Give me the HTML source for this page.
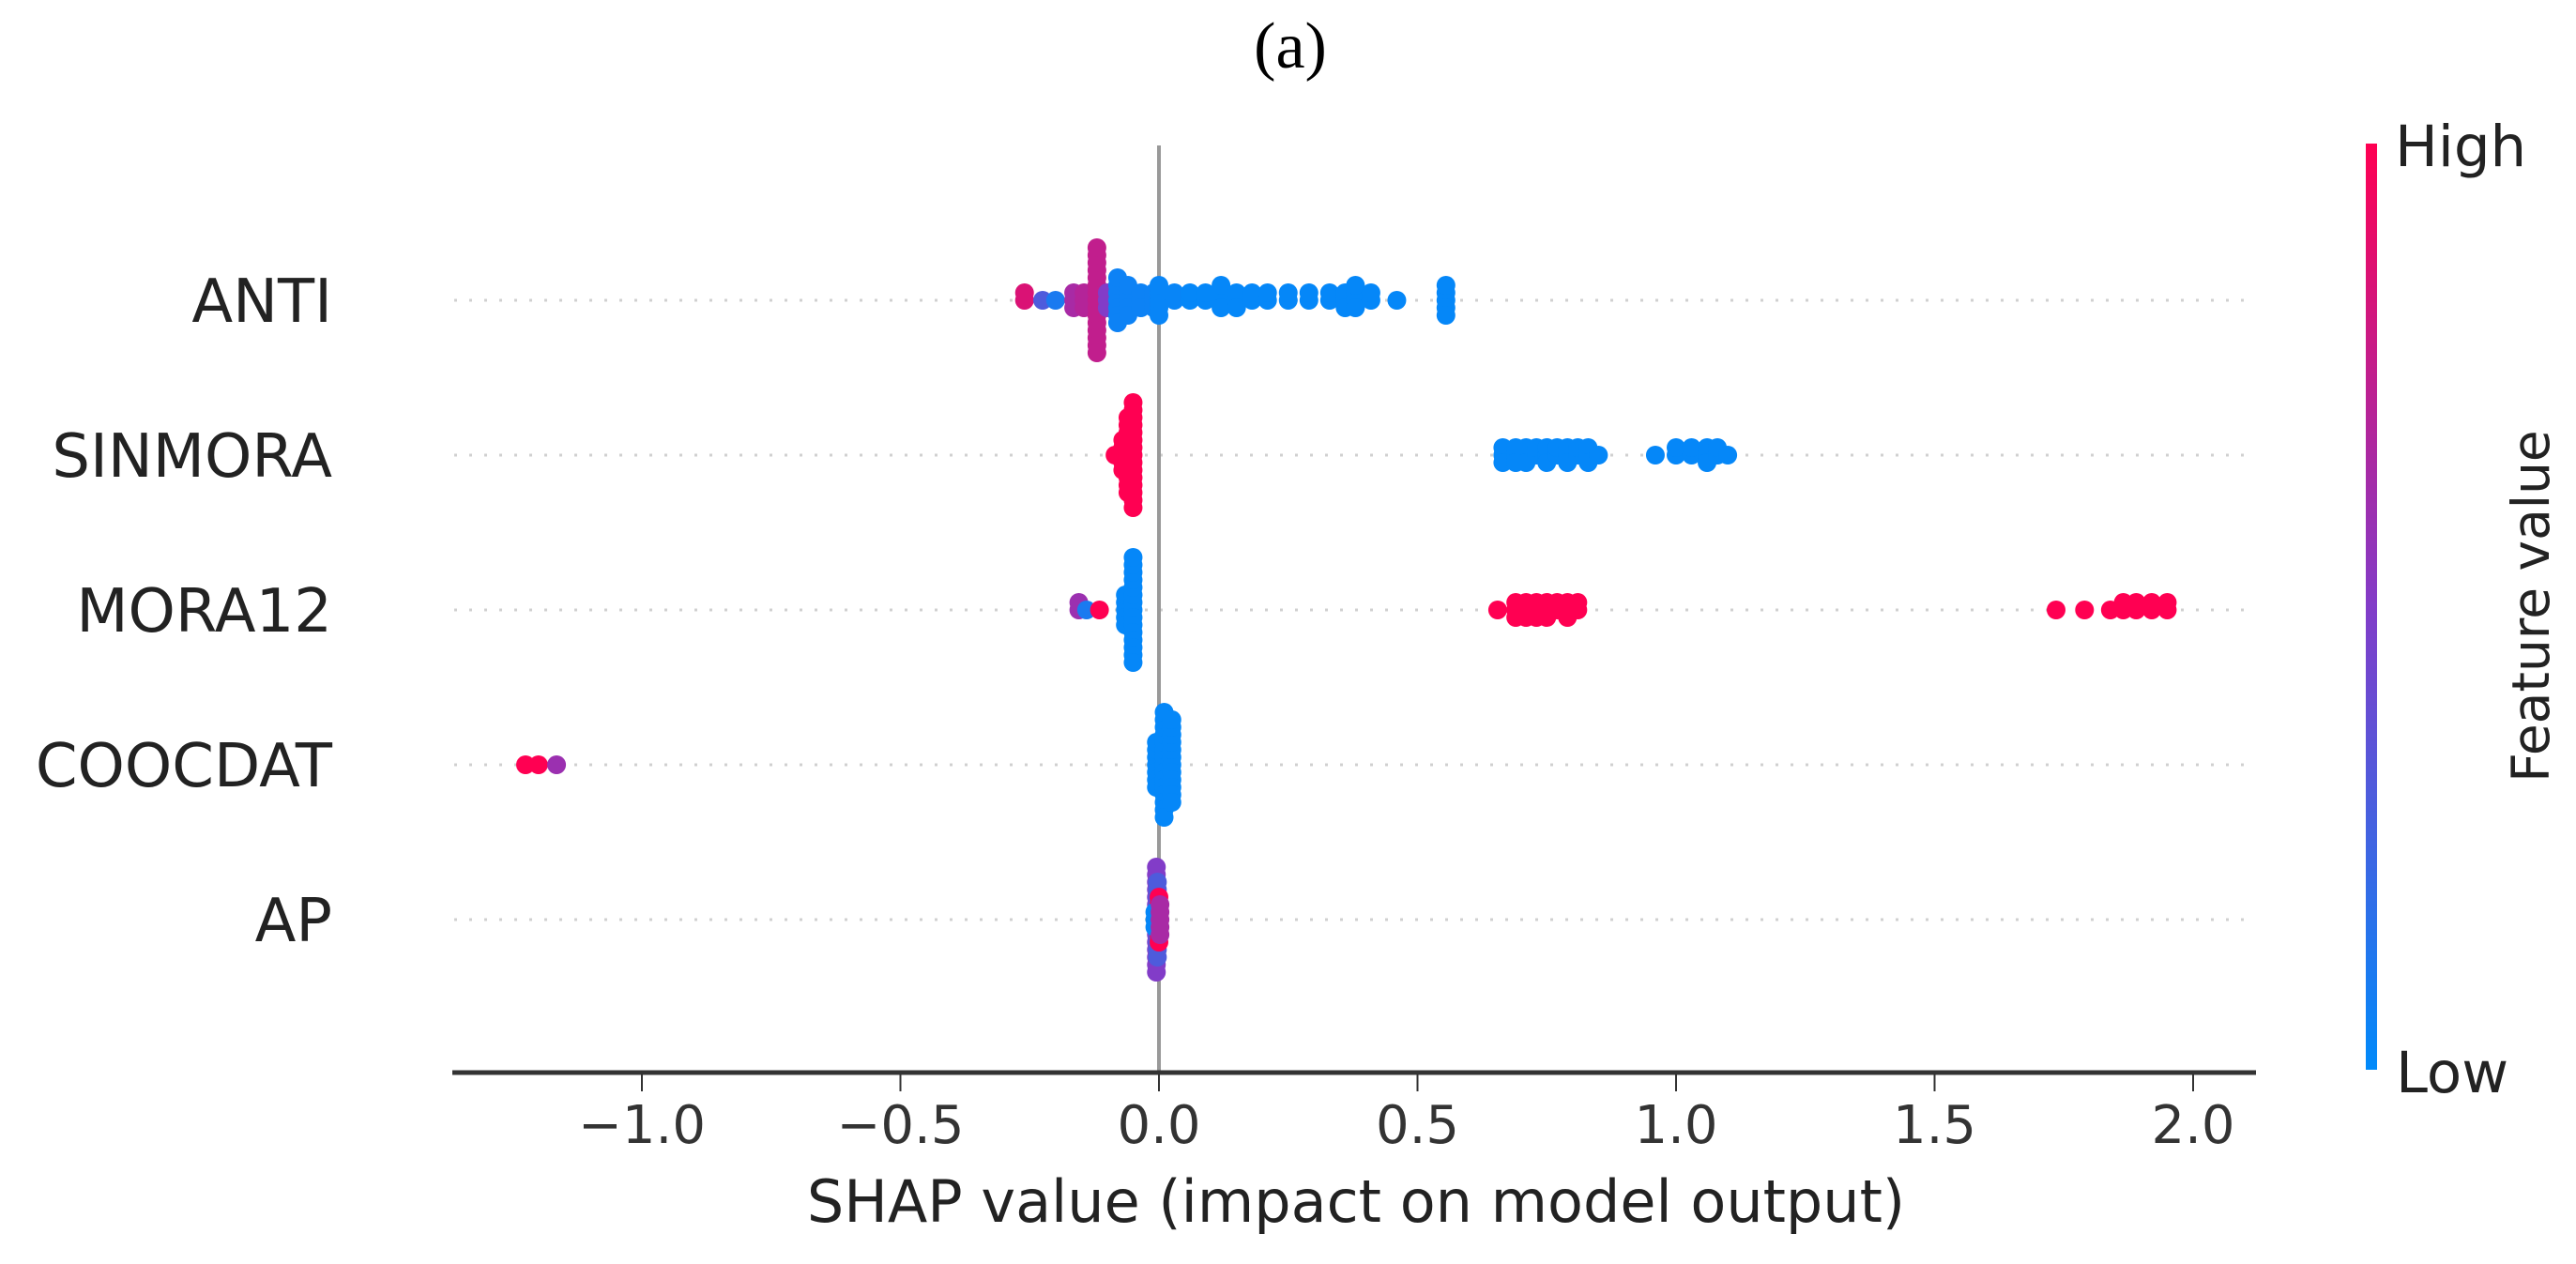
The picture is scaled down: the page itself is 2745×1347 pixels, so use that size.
<!DOCTYPE html>
<html><head><meta charset="utf-8">
<style>
html,body{margin:0;padding:0;background:#fff;}
svg{display:block;}
text{font-family:"DejaVu Sans","Liberation Sans",sans-serif;}
</style></head>
<body>
<svg id="chart" width="2745" height="1347" viewBox="0 0 2745 1347" xmlns="http://www.w3.org/2000/svg">
<defs>
<linearGradient id="cbar" x1="0" y1="1" x2="0" y2="0">
<stop offset="0" stop-color="#008afa"/>
<stop offset="0.5" stop-color="#823cc8"/>
<stop offset="1" stop-color="#ff0052"/>
</linearGradient>
</defs>
<text x="1375" y="72" text-anchor="middle" font-size="70" style="font-family:'Liberation Serif',serif" fill="#000">(a)</text>
<g id="grid"></g>
<line x1="1235" y1="155" x2="1235" y2="1143" stroke="#999" stroke-width="4"/>
<g id="dots"></g>
<line x1="482" y1="1143" x2="2404" y2="1143" stroke="#333" stroke-width="5"/>
<g id="xticks"></g>
<text x="1445" y="1302" text-anchor="middle" font-size="62" fill="#222">SHAP value (impact on model output)</text>
<g id="ylabels"></g>
<rect x="2521" y="153" width="12" height="987" fill="url(#cbar)"/>
<text x="2552" y="177" font-size="61" fill="#222">High</text>
<text x="2553" y="1164" font-size="61" fill="#222">Low</text>
<text x="2716" y="646" font-size="55" fill="#222" text-anchor="middle" transform="rotate(-90 2716 646)">Feature value</text>
</svg>
<script>
const features = ["ANTI","SINMORA","MORA12","COOCDAT","AP"];
const tickValues = [-1.0,-0.5,0.0,0.5,1.0,1.5,2.0];
const tickLabels = ["\u22121.0","\u22120.5","0.0","0.5","1.0","1.5","2.0"];

const antiVals = [-0.26,-0.225,-0.20,-0.165,-0.145,-0.12,-0.10,-0.08,-0.06,-0.035,-0.01,0.0,0.03,0.06,0.09,0.12,0.15,0.18,0.21,0.25,0.29,0.33,0.36,0.38,0.41,0.46,0.555];
const antiColors = [0.85,0.3,0.1,0.65,0.7,0.75,0.5,0.05,0.05,0.05,0.05,0.03,0.03,0.02,0.02,0.02,0.02,0.02,0.02,0.02,0.02,0.02,0.02,0.02,0.02,0.02,0.02];
const antiCounts = [2,1,1,3,3,15,3,7,5,3,3,5,2,2,2,4,3,2,2,2,2,2,3,4,2,1,5];

const sinmoraVals = [-0.085,-0.07,-0.06,-0.05,0.665,0.69,0.71,0.73,0.75,0.77,0.79,0.81,0.83,0.85,0.96,1.0,1.03,1.06,1.08,1.1];
const sinmoraColors = [1,1,1,1,0.02,0.02,0.02,0.02,0.02,0.02,0.02,0.02,0.02,0.02,0.02,0.02,0.02,0.02,0.02,0.02];
const sinmoraCounts = [1,5,11,15,3,3,3,2,3,2,3,2,3,1,1,2,2,3,2,1];

const mora12Vals = [-0.155,-0.14,-0.115,-0.065,-0.05,0.655,0.69,0.71,0.73,0.75,0.77,0.79,0.81,1.735,1.79,1.84,1.865,1.89,1.92,1.95];
const mora12Colors = [0.6,0.1,1,0.02,0.02,1,1,1,1,1,1,1,1,1,1,1,1,1,1,1];
const mora12Counts = [2,1,1,5,15,1,3,3,3,3,2,3,2,1,1,1,2,2,2,2];

const coocdatVals = [-1.225,-1.2,-1.165,-0.005,0.01,0.025];
const coocdatColors = [1,1,0.6,0.02,0.02,0.02];
const coocdatCounts = [1,1,1,7,15,12];

const apVals = [-0.005,-0.003,0.0,-0.008,0.002];
const apColors = [0.5,0.3,1,0.02,0.65];
const apCounts = [15,11,7,3,5];

const series = [
  [antiVals, antiColors, antiCounts],
  [sinmoraVals, sinmoraColors, sinmoraCounts],
  [mora12Vals, mora12Colors, mora12Counts],
  [coocdatVals, coocdatColors, coocdatCounts],
  [apVals, apColors, apCounts]
];

const NS = "http://www.w3.org/2000/svg";
const X0 = 1235, XU = 551;
function xScale(v){ return X0 + XU * v; }
const ROW0 = 320, ROWSTEP = 165;
function yScale(i){ return ROW0 + ROWSTEP * i; }
function colorFor(t){
  const stops = [[0,[0,138,250]],[0.5,[130,60,200]],[1,[255,0,82]]];
  let a = stops[0], b = stops[1];
  if (t > 0.5){ a = stops[1]; b = stops[2]; }
  const f = (t - a[0]) / (b[0] - a[0]);
  const c = a[1].map((v,k)=>Math.round(v + (b[1][k]-v)*f));
  return "rgb(" + c.join(",") + ")";
}

const grid = document.getElementById("grid");
const ylab = document.getElementById("ylabels");
features.forEach((f,i)=>{
  const y = yScale(i);
  const gl = document.createElementNS(NS,"line");
  
  
  gl.setAttribute("x1",484); gl.setAttribute("x2",2402);
  gl.setAttribute("y1",y); gl.setAttribute("y2",y);
  gl.setAttribute("stroke","#d0d0d0"); gl.setAttribute("stroke-width","3");
  gl.setAttribute("stroke-dasharray","3 13");
  grid.appendChild(gl);
  const t = document.createElementNS(NS,"text");
  
  
  t.setAttribute("x",354); t.setAttribute("y",y+23);
  t.setAttribute("text-anchor","end"); t.setAttribute("font-size","64");
  t.setAttribute("fill","#222");
  t.textContent = f;
  ylab.appendChild(t);
});

const xt = document.getElementById("xticks");
tickValues.forEach((v,i)=>{
  const x = xScale(v);
  const tk = document.createElementNS(NS,"line");
  
  
  tk.setAttribute("x1",x); tk.setAttribute("x2",x);
  tk.setAttribute("y1",1145); tk.setAttribute("y2",1163);
  tk.setAttribute("stroke","#333"); tk.setAttribute("stroke-width","2");
  xt.appendChild(tk);
  const tl = document.createElementNS(NS,"text");
  
  
  tl.setAttribute("x",x); tl.setAttribute("y",1218);
  tl.setAttribute("text-anchor","middle"); tl.setAttribute("font-size","56");
  tl.setAttribute("fill","#333");
  tl.textContent = tickLabels[i];
  xt.appendChild(tl);
});

const dots = document.getElementById("dots");
const STEP = 8, R = 10;
series.forEach((s,i)=>{
  const vals = s[0], cols = s[1], cnts = s[2];
  const yc = yScale(i);
  vals.forEach((v,j)=>{
    const n = cnts[j];
    for (let k=0;k<n;k++){
      const m = Math.ceil(k/2) * (k%2===1 ? -1 : 1);
      const c = document.createElementNS(NS,"circle");
      
      
      c.setAttribute("cx", xScale(v));
      c.setAttribute("cy", yc + m*STEP);
      c.setAttribute("r", R);
      c.setAttribute("fill", colorFor(cols[j]));
      dots.appendChild(c);
    }
  });
});
</script>
</body></html>
